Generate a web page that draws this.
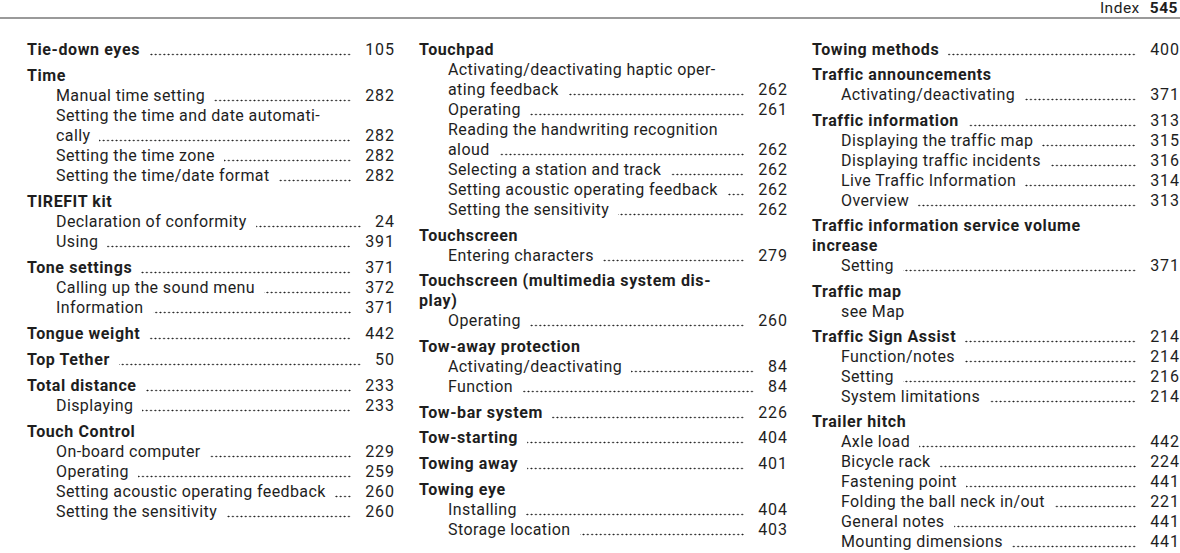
<!DOCTYPE html>
<html>
<head>
<meta charset="utf-8">
<script src="https://cdn.jsdelivr.net/npm/chart.js@4/dist/chart.umd.min.js"></script>
<style>
  html, body { margin: 0; padding: 0; background: #fff; }
  body { width: 1180px; height: 553px; position: relative; overflow: hidden;
         font-family: Roboto, "Liberation Sans", sans-serif; color: #1e1e1e; font-size: 16px; }
  #rule { position: absolute; left: 0; top: 17px; width: 1180px; height: 2px; background: #9a9a9a; }
  #hdr { position: absolute; right: 2px; top: 0px; font-size: 15.5px; line-height: 17px; letter-spacing: 0.5px; }
  #hdr b { margin-left: 10px; font-weight: 700; }
  .col { position: absolute; top: 40px; }
  .row { display: flex; height: 20px; line-height: 20px; white-space: nowrap; letter-spacing: 0.4px; }
  .row.main { font-weight: 700; letter-spacing: 0.6px; }
  .row.gap { margin-top: 6px; }
  #c2 .row.gap { margin-top: 5.7px; }
  #c3 .row.gap { margin-top: 5.4px; }
  .row.sub { padding-left: 29px; }
  .lab { flex: none; }
  .dots { flex: 1 1 auto; margin: 0 14px 0 9px;
          background-image: radial-gradient(circle, #1e1e1e 0.7px, rgba(30,30,30,0) 1.1px);
          background-size: 4.3px 3px; background-repeat: repeat-x; background-position: right 0 bottom 4px; }
  .pg { flex: none; font-weight: 400; text-align: right; letter-spacing: 0.9px; margin-right: -0.9px; }
</style>
</head>
<body>
<div id="rule"></div>
<div id="hdr">Index<b>545</b></div>
<div id="c1" class="col" style="left:27px;width:367px"></div>
<div id="c2" class="col" style="left:419px;width:368px"></div>
<div id="c3" class="col" style="left:812px;width:367px"></div>
<script>
// level: 0 = main entry (bold), 1 = sub entry; "" page = no page on this line (wrapped line)
const column1Levels = [0,0,1,1,1,1,1,0,1,1,0,1,1,0,0,0,1,0,1,1,1,1];
const column1Labels = ["Tie-down eyes","Time","Manual time setting","Setting the time and date automati-","cally","Setting the time zone","Setting the time/date format","TIREFIT kit","Declaration of conformity","Using","Tone settings","Calling up the sound menu","Information","Tongue weight","Top Tether","Total distance","Displaying","Touch Control","On-board computer","Operating","Setting acoustic operating feedback","Setting the sensitivity"];
const column1Pages  = ["105","","282","","282","282","282","","24","391","371","372","371","442","50","233","233","","229","259","260","260"];

const column2Levels = [0,1,1,1,1,1,1,1,1,0,1,0,0,1,0,1,1,0,0,0,0,1,1];
const column2Labels = ["Touchpad","Activating/deactivating haptic oper-","ating feedback","Operating","Reading the handwriting recognition","aloud","Selecting a station and track","Setting acoustic operating feedback","Setting the sensitivity","Touchscreen","Entering characters","Touchscreen (multimedia system dis-","play)","Operating","Tow-away protection","Activating/deactivating","Function","Tow-bar system","Tow-starting","Towing away","Towing eye","Installing","Storage location"];
const column2Pages  = ["","","262","261","","262","262","262","262","","279","","","260","","84","84","226","404","401","","404","403"];

const column3Levels = [0,0,1,0,1,1,1,1,0,0,1,0,1,0,1,1,1,0,1,1,1,1,1,1];
const column3Labels = ["Towing methods","Traffic announcements","Activating/deactivating","Traffic information","Displaying the traffic map","Displaying traffic incidents","Live Traffic Information","Overview","Traffic information service volume","increase","Setting","Traffic map","see Map","Traffic Sign Assist","Function/notes","Setting","System limitations","Trailer hitch","Axle load","Bicycle rack","Fastening point","Folding the ball neck in/out","General notes","Mounting dimensions"];
const column3Pages  = ["400","","371","313","315","316","314","313","","","371","","","214","214","216","214","","442","224","441","221","441","441"];

// lines that continue the previous main-entry heading (no gap before them)
const column2Cont = [12];
const column3Cont = [9];

function build(el, levels, labels, pages, cont) {
  levels.forEach((lv, i) => {
    const r = document.createElement('div');
    r.className = 'row ' + (lv === 0 ? 'main' : 'sub') + (lv === 0 && i > 0 && !(cont||[]).includes(i) ? ' gap' : '');
    const l = document.createElement('span'); l.className = 'lab'; l.textContent = labels[i]; r.appendChild(l);
    if (pages[i] !== "") {
      const d = document.createElement('span'); d.className = 'dots'; r.appendChild(d);
      const p = document.createElement('span'); p.className = 'pg'; p.textContent = pages[i]; r.appendChild(p);
    }
    el.appendChild(r);
  });
}
build(document.getElementById('c1'), column1Levels, column1Labels, column1Pages);
build(document.getElementById('c2'), column2Levels, column2Labels, column2Pages, column2Cont);
build(document.getElementById('c3'), column3Levels, column3Labels, column3Pages, column3Cont);
</script>
</body>
</html>
